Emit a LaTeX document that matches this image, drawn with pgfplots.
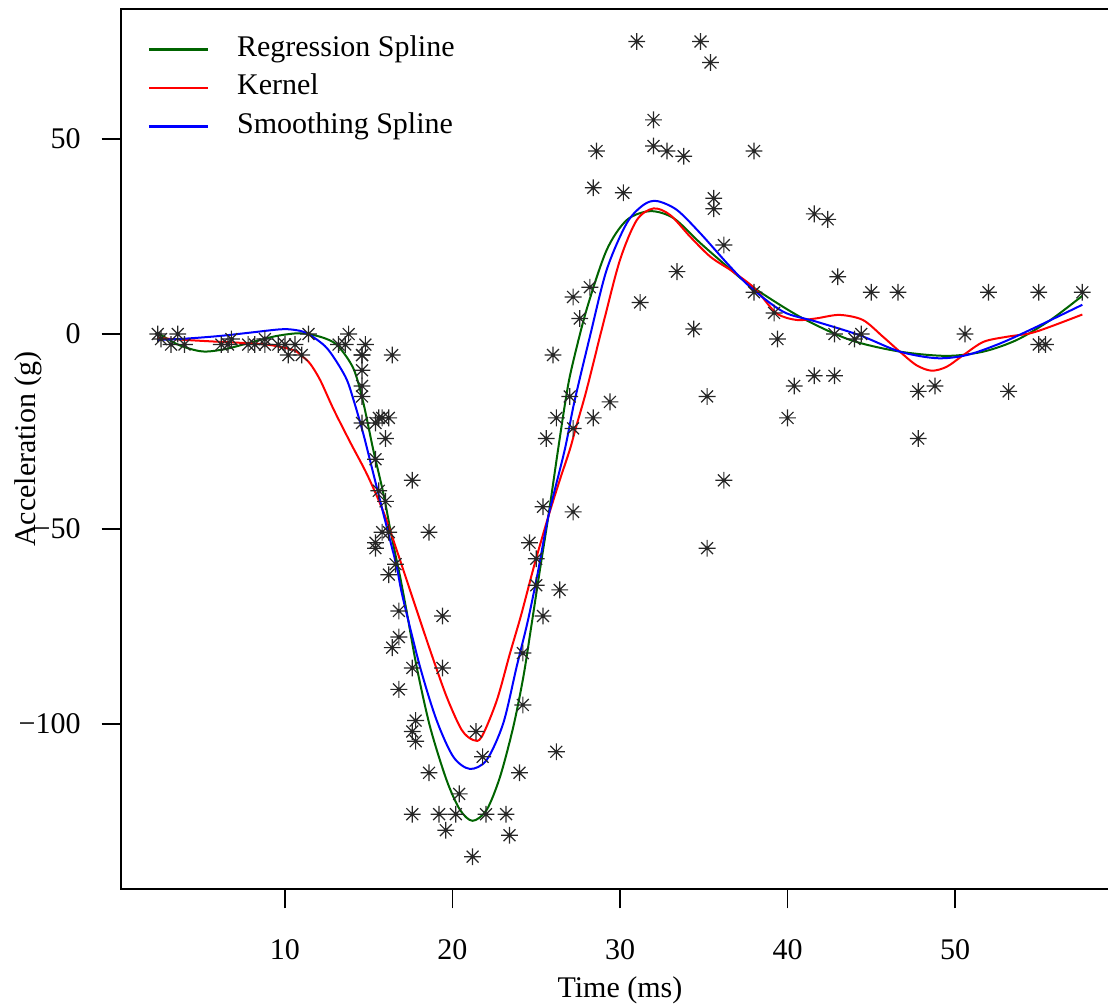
\documentclass[border=0pt]{standalone}
\usepackage{fontspec}
\setmainfont{Liberation Serif}
\usepackage{pgfplots}
\pgfplotsset{compat=1.18}
\definecolor{rgreen}{RGB}{0,100,0}
\pgfdeclareplotmark{rstar}{%
 \pgfpathmoveto{\pgfqpoint{-\pgfplotmarksize}{0pt}}\pgfpathlineto{\pgfqpoint{\pgfplotmarksize}{0pt}}%
 \pgfpathmoveto{\pgfqpoint{0pt}{-\pgfplotmarksize}}\pgfpathlineto{\pgfqpoint{0pt}{\pgfplotmarksize}}%
 \pgfpathmoveto{\pgfqpoint{-0.7071\pgfplotmarksize}{-0.7071\pgfplotmarksize}}\pgfpathlineto{\pgfqpoint{0.7071\pgfplotmarksize}{0.7071\pgfplotmarksize}}%
 \pgfpathmoveto{\pgfqpoint{-0.7071\pgfplotmarksize}{0.7071\pgfplotmarksize}}\pgfpathlineto{\pgfqpoint{0.7071\pgfplotmarksize}{-0.7071\pgfplotmarksize}}%
 \pgfusepathqstroke}
\pgfplotstableread{
t a
2.4 0.0
2.6 -1.3
3.2 -2.7
3.6 0.0
4.0 -2.7
6.2 -2.7
6.6 -2.7
6.8 -1.3
7.8 -2.7
8.2 -2.7
8.8 -1.3
8.8 -2.7
9.6 -2.7
10.0 -2.7
10.2 -5.4
10.6 -2.7
11.0 -5.4
11.4 0.0
13.2 -2.7
13.6 -2.7
13.8 0.0
14.6 -13.3
14.6 -5.4
14.6 -5.4
14.6 -9.3
14.6 -16.0
14.6 -22.8
14.8 -2.7
15.4 -22.8
15.4 -32.1
15.4 -53.5
15.4 -54.9
15.6 -40.2
15.6 -21.5
15.8 -21.5
15.8 -50.8
16.0 -42.9
16.0 -26.8
16.2 -21.5
16.2 -50.8
16.2 -61.7
16.4 -5.4
16.4 -80.4
16.6 -59.0
16.8 -71.0
16.8 -91.1
16.8 -77.7
17.6 -37.5
17.6 -85.6
17.6 -123.1
17.6 -101.9
17.8 -99.1
17.8 -104.4
18.6 -112.5
18.6 -50.8
19.2 -123.1
19.4 -85.6
19.4 -72.3
19.6 -127.2
20.2 -123.1
20.4 -117.9
21.2 -134.0
21.4 -101.9
21.8 -108.4
22.0 -123.1
23.2 -123.1
23.4 -128.5
24.0 -112.5
24.2 -95.1
24.2 -81.8
24.6 -53.5
25.0 -64.4
25.0 -57.6
25.4 -72.3
25.4 -44.3
25.6 -26.8
26.0 -5.4
26.2 -107.1
26.2 -21.5
26.4 -65.6
27.0 -16.0
27.2 -45.6
27.2 -24.2
27.2 9.5
27.6 4.0
28.2 12.0
28.4 -21.5
28.4 37.5
28.6 46.9
29.4 -17.4
30.2 36.2
31.0 75.0
31.2 8.1
32.0 54.9
32.0 48.2
32.8 46.9
33.4 16.0
33.8 45.6
34.4 1.3
34.8 75.0
35.2 -16.0
35.2 -54.9
35.4 69.6
35.6 34.8
35.6 32.1
36.2 -37.5
36.2 22.8
38.0 46.9
38.0 10.7
39.2 5.4
39.4 -1.3
40.0 -21.5
40.4 -13.3
41.6 30.8
41.6 -10.7
42.4 29.4
42.8 0.0
42.8 -10.7
43.0 14.7
44.0 -1.3
44.4 0.0
45.0 10.7
46.6 10.7
47.8 -26.8
47.8 -14.7
48.8 -13.3
50.6 0.0
52.0 10.7
53.2 -14.7
55.0 -2.7
55.0 10.7
55.4 -2.7
57.6 10.7
}\mcycle
\begin{document}
\fontsize{15}{18}\selectfont
\begin{tikzpicture}
\begin{axis}[
  scale only axis, width=499.3pt, height=440.2pt,
  xmin=0.192, xmax=59.808, ymin=-142.36, ymax=83.36,
  axis line style={line width=0.9pt},
  tick style={line width=0.9pt, black},
  tick align=outside, major tick length=9.5pt, tick pos=left,
  xtick={10,20,30,40,50}, xticklabels={10,20,30,40,50},
  ytick={-100,-50,0,50}, yticklabels={−100,−50,0,50},
  /pgf/number format/assume math mode=true,
  xticklabel style={anchor=base, inner sep=0pt, yshift=-25.4pt},
  yticklabel style={anchor=east, inner sep=0pt, xshift=-10.35pt},
  xlabel={Time (ms)}, ylabel={Acceleration (g)},
  xlabel style={at={(axis description cs:0.5,-0.1145)}, anchor=center},
  ylabel style={at={(axis description cs:-0.0925,0.5)}, anchor=center},
  legend style={draw=none, fill=none, at={(axis description cs:0,1)}, anchor=north west,
    xshift=13.6pt, yshift=-13.3pt, inner sep=0pt, outer sep=0pt, row sep=5.25pt, column sep=14pt,
    nodes={inner sep=0pt, text height=10.5pt, text depth=3.5pt}},
  legend cell align=left,
  legend image code/.code={\draw[#1, line width=1.1pt] (0pt,0pt) -- (29.5pt,0pt);},
]
\addplot[only marks, mark=rstar, mark size=4.2pt, mark options={line width=0.6pt, black!85}, forget plot] table[x=t, y=a] {\mcycle};
\addplot[rgreen, line width=1pt, smooth] coordinates {
(2.4,0.3) (3.5,-2.5) (4.5,-4.0) (5.3,-4.5) (6.5,-3.8) (8.1,-2.0) (9.5,-0.5) (10.9,0.2) (12.1,-0.7) (13.1,-2.8) (14.08,-8.8) (14.67,-17.5) (15.27,-29.7) (15.87,-40.8) (16.37,-52) (16.87,-62.2) (17.3,-72) (17.86,-85.3) (18.66,-100.7) (19.65,-114.4) (20.45,-122) (21.2,-124.8) (22.04,-122) (22.84,-113.5) (23.63,-100.7) (24.23,-87.9) (24.67,-75.9) (25.2,-61) (25.72,-46.8) (26.3,-29.7) (26.75,-17) (27.1,-9) (28.0,6.2) (29.2,21.5) (30.4,29.2) (31.8,31.5) (33.2,29.7) (34.8,23.3) (36.4,17.3) (37.76,12.5) (40.75,4.4) (43.73,-1.5) (46.7,-4.5) (49.5,-5.6) (51.7,-4.5) (53.7,-1.5) (55.7,3.6) (57.6,9.8)};
\addlegendentry{Regression Spline}
\addplot[red, line width=1pt, smooth] coordinates {
(2.4,-1.0) (4,-1.5) (6.1,-2.0) (8,-2.4) (9.1,-2.8) (10.5,-4.1) (11.0,-5.6) (11.5,-7.6) (12.1,-11.8) (12.9,-19.3) (13.9,-27.8) (14.9,-36) (15.87,-45.5) (16.67,-55.4) (17.66,-68.2) (18.66,-81) (19.65,-93) (20.55,-101.5) (21.24,-104.1) (21.74,-103.3) (22.64,-94) (23.43,-81.9) (24.1,-72) (24.9,-59) (25.72,-46.8) (26.4,-37.5) (27.0,-29.7) (27.4,-23.5) (28.0,-14.4) (29.0,2.7) (30.0,19) (31.0,29.2) (32.0,32.2) (33.0,30.5) (34.2,24.9) (35.4,19.8) (36.6,16.4) (37.6,13.3) (38.2,11.0) (39.35,5.3) (40.55,3.6) (41.7,4.0) (43.1,4.9) (44.5,3.6) (45.7,-0.7) (46.7,-4.5) (47.7,-8) (48.6,-9.4) (49.5,-8.4) (50.5,-5.4) (51.7,-2) (53.1,-0.7) (54.5,0.2) (55.7,1.9) (57.6,5.0)};
\addlegendentry{Kernel}
\addplot[blue, line width=1pt, smooth] coordinates {
(2.4,-1.5) (4,-1.2) (6.1,-0.5) (8,0.4) (9.7,1.2) (10.5,1.1) (11.3,0.2) (12.5,-3.6) (13.6,-10.9) (14.1,-17.0) (14.67,-25.5) (15.17,-34) (15.67,-42.6) (16.17,-51.1) (16.67,-59.7) (17.03,-67.5) (18.06,-85.3) (19.05,-99) (20.05,-108.4) (21.04,-111.5) (22.04,-109.2) (23.03,-99.8) (23.83,-85.3) (24.5,-73.5) (25.1,-61) (25.72,-46.8) (26.7,-29.7) (27.27,-17.5) (28.2,-0.7) (29.2,16.4) (30.4,28.4) (31.4,33.1) (32.2,34.1) (33.4,31.8) (34.8,25.8) (36.4,18.1) (37.76,12.1) (39.75,5.7) (41.7,3.2) (44.3,-0.3) (46.7,-4.5) (48.9,-6.2) (50.7,-5.4) (52.7,-2.4) (54.7,1.5) (57.6,7.5)};
\addlegendentry{Smoothing Spline}
\coordinate (SW) at (rel axis cs:0,0);
\coordinate (NE) at (rel axis cs:1,1);
\end{axis}
\pgfresetboundingbox
\useasboundingbox ([shift={(-60.35pt,-57.4pt)}]SW) rectangle ([shift={(-5.65pt,4.45pt)}]NE);
\end{tikzpicture}
\end{document}
